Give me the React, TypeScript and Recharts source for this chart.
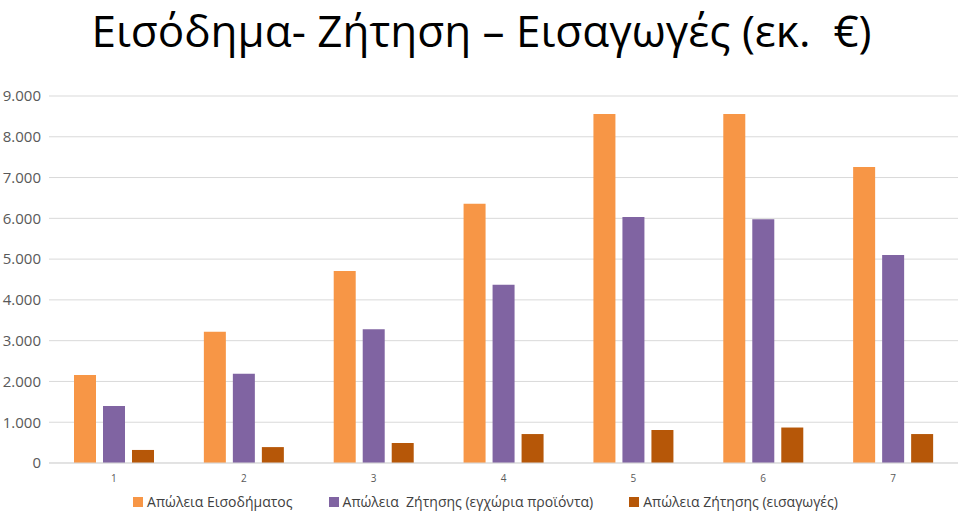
import React from "react";
import { BarChart, Bar, XAxis, YAxis, CartesianGrid, Legend } from "recharts";

const categories = ["1", "2", "3", "4", "5", "6", "7"];
const incomeLoss = [2160, 3220, 4710, 6360, 8560, 8560, 7260];
const domesticDemandLoss = [1400, 2190, 3280, 4370, 6030, 5980, 5100];
const importDemandLoss = [320, 390, 490, 710, 810, 870, 710];
const yTicks = [0, 1000, 2000, 3000, 4000, 5000, 6000, 7000, 8000, 9000];

const seriesOrder = ["income", "domestic", "imports"];
const seriesNames = {
  income: "Απώλεια Εισοδήματος",
  domestic: "Απώλεια  Ζήτησης (εγχώρια προϊόντα)",
  imports: "Απώλεια Ζήτησης (εισαγωγές)",
};

const data = categories.map((c, i) => ({
  name: c,
  income: incomeLoss[i],
  domestic: domesticDemandLoss[i],
  imports: importDemandLoss[i],
}));

const FONT = "'Open Sans', 'Noto Sans', sans-serif";

const fmt = (v: number) => (v === 0 ? "0" : `${v / 1000}.000`);

function LegendContent({ payload }: any) {
  const items = [...(payload || [])].sort(
    (a: any, b: any) => seriesOrder.indexOf(a.dataKey) - seriesOrder.indexOf(b.dataKey)
  );
  return (
    <div
      style={{
        display: "flex",
        justifyContent: "center",
        gap: 36,
        paddingLeft: 12,
        fontFamily: FONT,
        fontSize: 14,
        color: "#404040",
      }}
    >
      {items.map((p: any) => (
        <div key={p.dataKey} style={{ display: "flex", alignItems: "center", whiteSpace: "pre" }}>
          <span style={{ width: 10, height: 10, background: p.color, display: "inline-block", marginRight: 4 }} />
          <span>{p.value}</span>
        </div>
      ))}
    </div>
  );
}

export default function App() {
  return (
    <div style={{ position: "absolute", left: 0, top: 0, width: 959, height: 511, background: "#fff" }}>
      <div
        style={{
          position: "absolute",
          left: 0,
          top: 0,
          width: 959,
          textAlign: "center",
          fontFamily: FONT,
          fontSize: 44,
          lineHeight: "60px",
          color: "#000",
          whiteSpace: "pre",
          paddingLeft: 2,
        }}
      >
        Εισόδημα- Ζήτηση – Εισαγωγές (εκ.  €)
      </div>
      <BarChart
        width={959}
        height={511}
        data={data}
        margin={{ top: 96, right: 1, left: 0, bottom: 0 }}
        barSize={22}
        barGap={7}
      >
        <CartesianGrid vertical={false} stroke="#D9D9D9" />
        <XAxis
          dataKey="name"
          height={48}
          tickLine={false}
          axisLine={{ stroke: "#D9D9D9" }}
          tick={{ fontSize: 10, fill: "#595959", fontFamily: FONT, dy: 4 }}
        />
        <YAxis
          width={49}
          domain={[0, 9000]}
          ticks={yTicks}
          tickFormatter={fmt}
          axisLine={false}
          tickLine={false}
          tick={{ fontSize: 15, fill: "#595959", fontFamily: FONT }}
        />
        <Legend
          verticalAlign="middle"
          align="center"
          layout="horizontal"
          wrapperStyle={{ top: 492, left: 0, width: 959 }}
          content={<LegendContent />}
        />
        <Bar dataKey="income" name={seriesNames.income} fill="#F79646" isAnimationActive={false} />
        <Bar dataKey="domestic" name={seriesNames.domestic} fill="#8064A2" isAnimationActive={false} />
        <Bar dataKey="imports" name={seriesNames.imports} fill="#B65708" isAnimationActive={false} />
      </BarChart>
    </div>
  );
}
